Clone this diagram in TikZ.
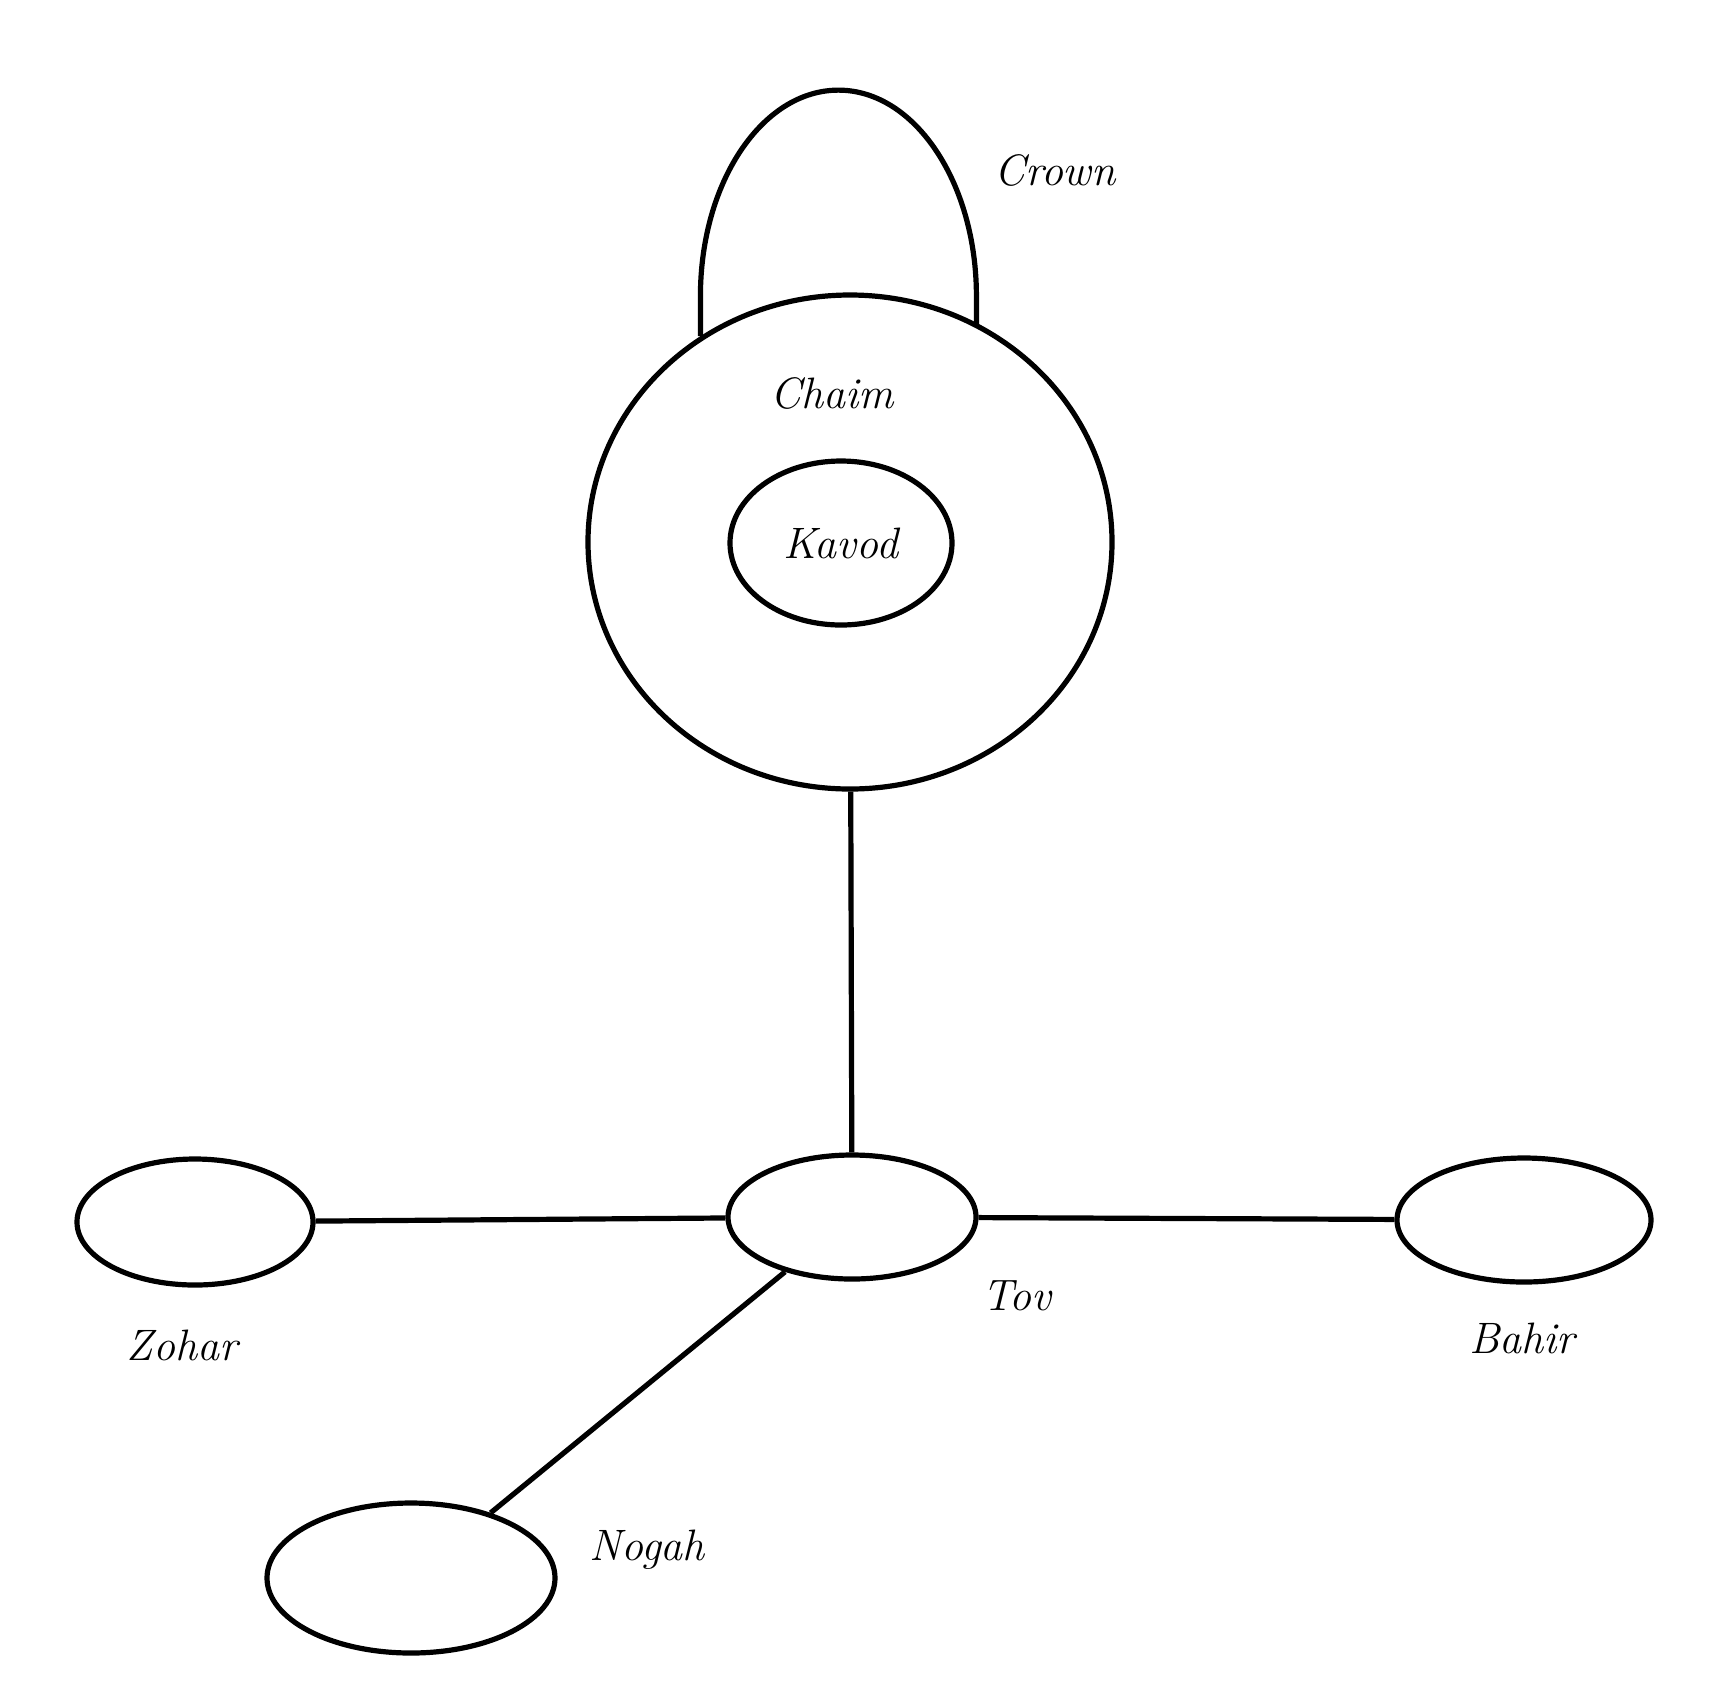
\documentclass[tikz,border=0pt]{standalone}
\usetikzlibrary{shapes.geometric, positioning}
\tikzset{
    sphere/.style = {ellipse, draw, line width=2.6pt, inner sep=0pt},
    sphere font/.style = {font=\fontsize{22}{26}\selectfont\itshape},
    sphere label/.style = {sphere font, inner sep=0pt, anchor=base},
    ring/.style = {line width=2.6pt, draw},
    link/.style = {line width=2.6pt},
}
\begin{document}
\begin{tikzpicture}[x=0.5pt, y=-0.5pt, line join=round]
    \useasboundingbox (0,0) rectangle (1724,1683);

    %% Chaim with Kavod inside and the Crown sitting on top
    \node [sphere, minimum width=262pt, minimum height=247pt] (chaim) at (850,542) {};
    \node [sphere, sphere font, minimum width=111pt, minimum height=82pt]
          (kavod) at (841,543) {Kavod};
    \node [sphere label] (chaim label) at (832,408) {Chaim};
    \draw [ring] (chaim.126) -- ++(0,-40)
      arc [start angle=180, end angle=0, x radius=69pt, y radius=103pt]
      coordinate (crown end) -- (crown end |- chaim.59);
    \node [sphere label] (crown label) at (1055,185) {Crown};

    %% The four lower spheres
    \node [sphere, minimum width=124pt, minimum height=62pt] (tov) at (852,1217) {};
    \node [sphere, minimum width=118pt, minimum height=63pt] (zohar) at (195,1222) {};
    \node [sphere, minimum width=127pt, minimum height=62pt] (bahir) at (1524,1220) {};
    \node [sphere, minimum width=144pt, minimum height=75pt] (nogah) at (411,1578) {};

    %% Connect them
    \draw [link] (chaim) -- (tov);
    \draw [link] (zohar) -- (tov);
    \draw [link] (tov) -- (bahir);
    \draw [link] (tov) -- (nogah);

    %% Names under and beside the spheres
    \node [sphere label] (tov label) at (1017,1310) {Tov};
    \node [sphere label] (zohar label) at (182,1360) {Zohar};
    \node [sphere label] (bahir label) at (1522,1353) {Bahir};
    \node [sphere label] (nogah label) at (647,1560) {Nogah};
\end{tikzpicture}
\end{document}
